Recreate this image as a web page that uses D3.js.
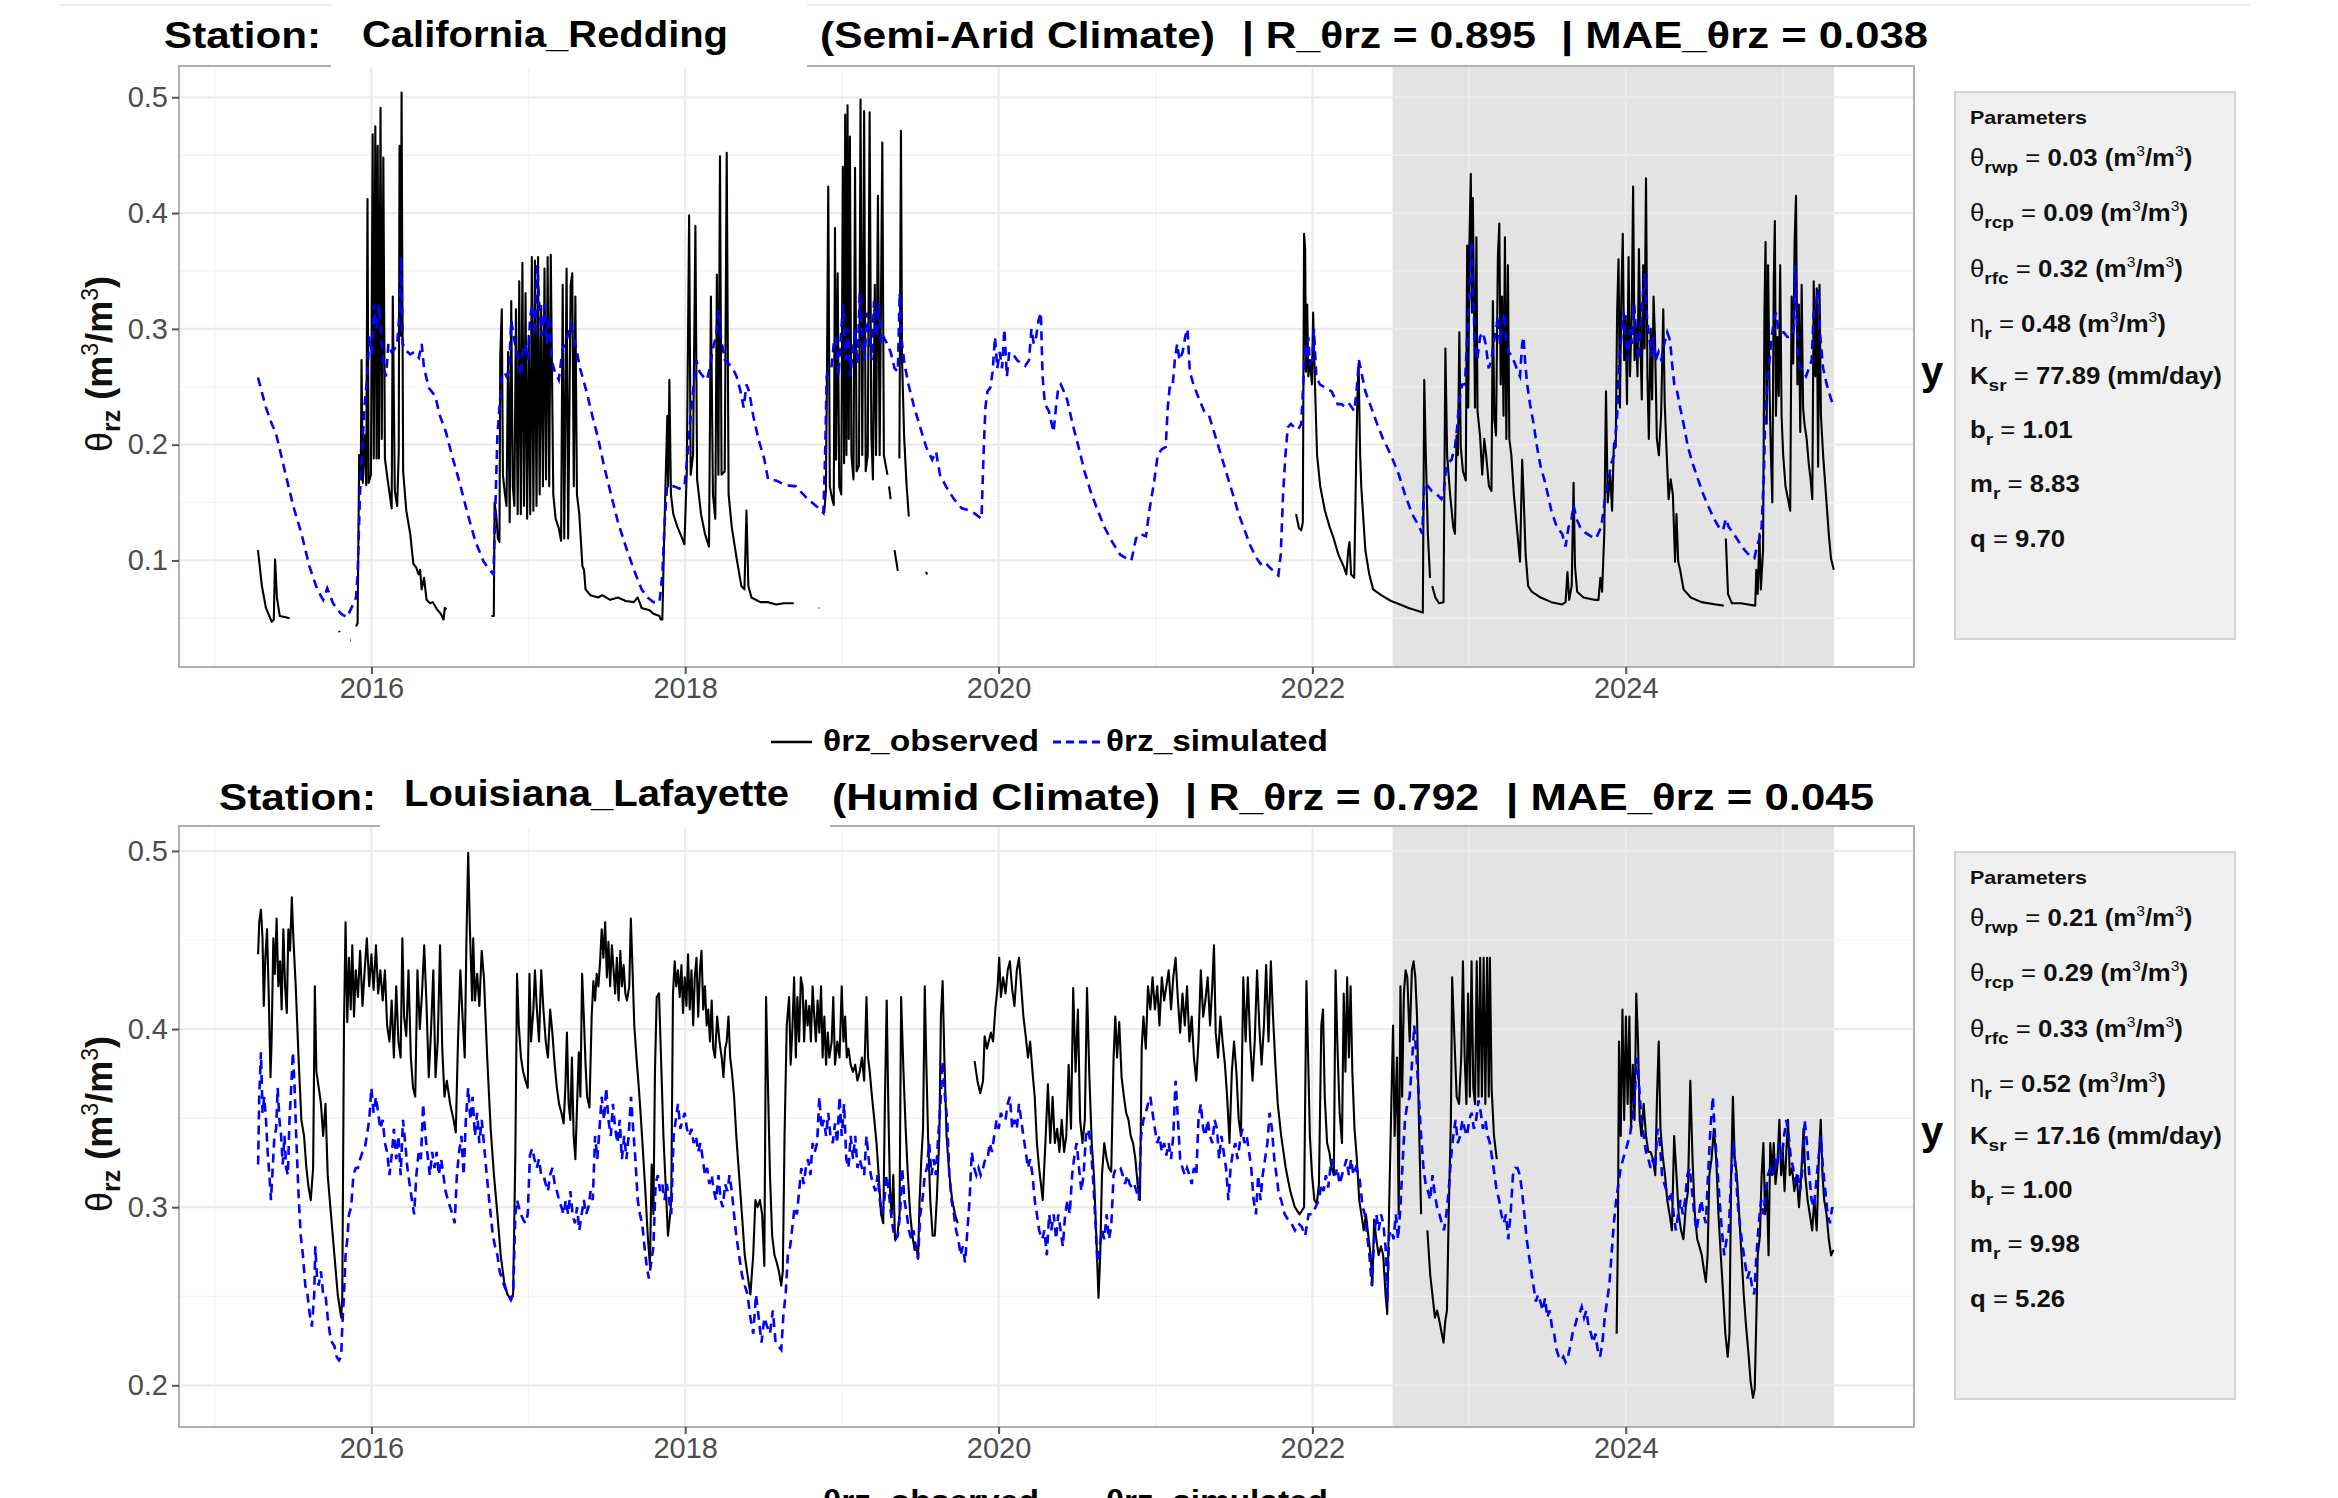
<!DOCTYPE html>
<html><head><meta charset="utf-8">
<script src="https://cdn.jsdelivr.net/npm/d3@7"></script>
<style>body{margin:0;background:#fff}svg{display:block}text{font-family:"Liberation Sans",Arial,sans-serif;white-space:pre}</style>
</head><body><svg id="c" width="2338" height="1498"></svg>
<script>
// ---------------- DATA (decimal year, value); null = gap ----------------
const majorYears=[2016,2018,2020,2022,2024];
const minorYears=[2015,2017,2019,2021,2023,2025];
const reddingTicks=[0.1,0.2,0.3,0.4,0.5], reddingMinor=[0.05,0.15,0.25,0.35,0.45];
const lafTicks=[0.2,0.3,0.4,0.5], lafMinor=[0.25,0.35,0.45];
const calibrationPeriod=[2022.512,2025.327];
const seriesNames=["θrz_observed","θrz_simulated"];
const paramNames=[["θ","rwp",0],["θ","rcp",0],["θ","rfc",0],["η","r",0],["K","sr",1],["b","r",1],["m","r",1],["q","",1]];
const paramUnits=["m3","m3","m3","m3","(mm/day)","","",""];
const reddingParams=["0.03","0.09","0.32","0.48","77.89","1.01","8.83","9.70"];
const lafayetteParams=["0.21","0.29","0.33","0.52","17.16","1.00","9.98","5.26"];

const reddingObs=[[2015.276,.109],[2015.301,.078],[2015.327,.059],[2015.364,.047],[2015.377,.049],[2015.385,.101],[2015.397,.068],[2015.415,.052],[2015.453,.051],[2015.478,.050],null,
[2015.793,.039],[2015.797,.038],null,[2015.864,.031],[2015.868,.031],null,
[2015.902,.043],[2015.912,.046],[2015.922,.191],[2015.932,.170],[2015.937,.273],[2015.945,.167],[2015.957,.208],[2015.967,.165],[2015.975,.412],[2015.982,.167],[2015.997,.174],[2016.008,.468],[2016.015,.188],[2016.025,.475],[2016.033,.188],[2016.040,.458],[2016.048,.188],[2016.058,.491],[2016.066,.205],[2016.076,.448],[2016.086,.188],[2016.103,.170],[2016.129,.145],[2016.136,.328],[2016.149,.160],[2016.164,.147],[2016.174,.194],[2016.179,.458],[2016.187,.294],[2016.192,.504],[2016.202,.177],[2016.222,.143],[2016.247,.123],[2016.267,.097],[2016.285,.094],[2016.300,.088],[2016.310,.092],[2016.320,.075],[2016.335,.085],[2016.351,.066],[2016.373,.063],[2016.391,.064],[2016.416,.058],[2016.441,.054],[2016.459,.049],[2016.467,.059],[2016.479,.058],null,
[2016.764,.052],[2016.779,.052],[2016.784,.150],[2016.794,.140],[2016.805,.119],[2016.815,.116],[2016.820,.276],[2016.830,.317],[2016.837,.174],[2016.850,.157],[2016.860,.147],[2016.870,.280],[2016.880,.133],[2016.890,.324],[2016.900,.164],[2016.910,.147],[2016.920,.317],[2016.931,.140],[2016.941,.341],[2016.951,.140],[2016.961,.357],[2016.971,.147],[2016.981,.331],[2016.991,.136],[2017.001,.294],[2017.011,.140],[2017.021,.362],[2017.031,.143],[2017.041,.359],[2017.051,.147],[2017.061,.362],[2017.071,.157],[2017.081,.320],[2017.092,.164],[2017.102,.352],[2017.112,.170],[2017.122,.362],[2017.132,.164],[2017.142,.364],[2017.158,.157],[2017.173,.136],[2017.193,.128],[2017.208,.117],[2017.218,.338],[2017.228,.119],[2017.243,.352],[2017.253,.119],[2017.269,.338],[2017.279,.348],[2017.289,.164],[2017.299,.328],[2017.309,.157],[2017.324,.140],[2017.344,.095],[2017.354,.092],[2017.364,.075],[2017.394,.070],[2017.445,.068],[2017.470,.070],[2017.521,.066],[2017.571,.068],[2017.621,.065],[2017.672,.064],[2017.697,.068],[2017.722,.059],[2017.773,.057],[2017.798,.054],[2017.836,.052],[2017.844,.049],
[2017.854,.049],[2017.864,.109],[2017.874,.164],[2017.886,.225],[2017.891,.164],[2017.899,.256],[2017.909,.157],[2017.924,.140],[2017.950,.129],[2017.975,.121],[2017.995,.114],[2018.010,.176],[2018.025,.398],[2018.035,.174],[2018.050,.191],[2018.065,.389],[2018.076,.170],[2018.101,.140],[2018.126,.123],[2018.152,.112],[2018.164,.328],[2018.177,.157],[2018.192,.136],[2018.202,.347],[2018.212,.174],[2018.222,.449],[2018.232,.174],[2018.252,.177],[2018.265,.452],[2018.277,.157],[2018.297,.129],[2018.328,.102],[2018.358,.078],[2018.378,.075],[2018.391,.143],[2018.403,.078],[2018.423,.068],[2018.479,.064],[2018.529,.064],[2018.580,.062],[2018.630,.063],[2018.693,.063],null,
[2018.852,.059],[2018.856,.059],null,
[2018.887,.141],[2018.898,.160],[2018.905,.266],[2018.913,.423],[2018.923,.164],[2018.938,.153],[2018.948,.148],[2018.956,.387],[2018.963,.187],[2018.973,.348],[2018.983,.164],[2018.996,.157],[2019.006,.440],[2019.014,.184],[2019.021,.485],[2019.029,.191],[2019.036,.493],[2019.044,.205],[2019.051,.466],[2019.061,.191],[2019.074,.170],[2019.084,.439],[2019.094,.177],[2019.109,.182],[2019.119,.498],[2019.130,.191],[2019.142,.488],[2019.152,.177],[2019.165,.191],[2019.177,.487],[2019.188,.208],[2019.198,.170],[2019.210,.338],[2019.218,.191],[2019.230,.415],[2019.241,.191],[2019.258,.461],[2019.268,.191],[2019.281,.181],[2019.291,.174],null,
[2019.301,.164],[2019.311,.153],null,[2019.336,.109],[2019.357,.091],null,
[2019.367,.188],[2019.377,.471],[2019.384,.273],[2019.397,.208],[2019.412,.167],[2019.427,.138],null,
[2019.536,.090],[2019.545,.088],null,
[2021.896,.140],[2021.914,.128],[2021.929,.126],[2021.939,.133],[2021.947,.382],[2021.954,.369],[2021.959,.263],[2021.967,.321],[2021.974,.259],[2021.984,.273],[2021.997,.252],[2022.005,.314],[2022.015,.259],[2022.030,.191],[2022.050,.164],[2022.080,.143],[2022.110,.129],[2022.136,.119],[2022.166,.105],[2022.199,.095],[2022.217,.088],[2022.229,.109],[2022.237,.116],[2022.247,.088],[2022.267,.085],[2022.280,.191],[2022.287,.239],[2022.295,.270],[2022.305,.191],[2022.312,.164],[2022.338,.109],[2022.363,.088],[2022.388,.075],[2022.439,.070],[2022.502,.065],[2022.560,.062],[2022.614,.059],[2022.705,.055],[2022.714,.256],[2022.724,.191],[2022.737,.123],[2022.751,.085],null,
[2022.765,.078],[2022.785,.068],[2022.808,.063],[2022.837,.064],[2022.849,.283],[2022.860,.191],[2022.879,.157],[2022.899,.129],[2022.910,.123],[2022.920,.208],[2022.929,.191],[2022.938,.297],[2022.947,.198],[2022.961,.177],[2022.979,.169],[2022.988,.372],[2022.995,.232],[2023.002,.372],[2023.011,.434],[2023.018,.314],[2023.024,.413],[2023.031,.328],[2023.038,.232],[2023.047,.379],[2023.054,.229],[2023.070,.208],[2023.084,.174],[2023.097,.205],[2023.109,.191],[2023.127,.164],[2023.143,.160],[2023.152,.324],[2023.161,.222],[2023.172,.208],[2023.184,.362],[2023.193,.391],[2023.202,.252],[2023.211,.328],[2023.220,.225],[2023.229,.379],[2023.238,.205],[2023.248,.355],[2023.257,.205],[2023.270,.191],[2023.286,.157],[2023.309,.123],[2023.325,.099],[2023.339,.187],[2023.348,.157],[2023.361,.105],[2023.377,.078],[2023.400,.073],[2023.457,.068],[2023.525,.064],[2023.594,.062],[2023.616,.064],[2023.628,.090],[2023.639,.066],[2023.655,.078],[2023.667,.167],[2023.676,.095],[2023.690,.073],[2023.730,.068],[2023.799,.066],[2023.826,.066],[2023.838,.085],[2023.849,.073],[2023.863,.123],[2023.874,.246],[2023.885,.150],[2023.901,.174],[2023.913,.143],[2023.924,.201],[2023.936,.198],[2023.945,.314],[2023.954,.360],[2023.963,.232],[2023.972,.328],[2023.981,.382],[2023.990,.273],[2023.999,.311],[2024.008,.235],[2024.018,.362],[2024.027,.259],[2024.038,.311],[2024.047,.423],[2024.056,.273],[2024.065,.300],[2024.075,.259],[2024.084,.369],[2024.093,.293],[2024.102,.239],[2024.111,.355],[2024.120,.283],[2024.129,.430],[2024.138,.259],[2024.147,.205],[2024.159,.300],[2024.168,.239],[2024.177,.328],[2024.186,.293],[2024.198,.205],[2024.211,.191],[2024.225,.225],[2024.239,.317],[2024.248,.235],[2024.261,.191],[2024.273,.153],[2024.286,.170],[2024.300,.157],[2024.314,.099],[2024.323,.140],[2024.334,.099],[2024.346,.092],[2024.368,.075],[2024.414,.068],[2024.482,.064],[2024.573,.062],[2024.624,.061],null,
[2024.637,.119],[2024.651,.071],[2024.676,.063],[2024.733,.063],[2024.779,.062],[2024.824,.061],[2024.831,.092],[2024.840,.071],[2024.851,.123],[2024.860,.075],[2024.874,.109],[2024.883,.317],[2024.890,.375],[2024.897,.218],[2024.906,.355],[2024.915,.249],[2024.924,.191],[2024.933,.150],[2024.942,.341],[2024.949,.393],[2024.956,.225],[2024.965,.293],[2024.974,.242],[2024.983,.355],[2024.992,.225],[2025.002,.191],[2025.017,.164],[2025.033,.153],[2025.047,.143],[2025.056,.328],[2025.066,.270],[2025.075,.375],[2025.084,.415],[2025.093,.252],[2025.102,.321],[2025.111,.211],[2025.120,.338],[2025.129,.232],[2025.138,.218],[2025.152,.205],[2025.165,.184],[2025.177,.170],[2025.188,.153],[2025.197,.341],[2025.207,.259],[2025.216,.335],[2025.225,.181],[2025.234,.338],[2025.243,.225],[2025.257,.191],[2025.275,.157],[2025.293,.123],[2025.307,.102],[2025.325,.092]];

const reddingSim=[[2015.276,.258],[2015.327,.232],[2015.364,.218],[2015.390,.210],[2015.415,.196],[2015.453,.174],[2015.503,.146],[2015.554,.123],[2015.604,.095],[2015.654,.075],[2015.692,.066],[2015.718,.076],[2015.755,.063],[2015.806,.054],[2015.844,.051],[2015.869,.058],[2015.902,.068],[2015.912,.088],[2015.927,.157],[2015.942,.198],[2015.957,.235],[2015.972,.256],[2015.987,.294],[2016.003,.277],[2016.018,.321],[2016.033,.300],[2016.048,.321],[2016.063,.294],[2016.078,.266],[2016.093,.259],[2016.108,.287],[2016.129,.280],[2016.149,.283],[2016.164,.287],[2016.179,.314],[2016.189,.362],[2016.199,.287],[2016.222,.281],[2016.247,.278],[2016.272,.280],[2016.302,.275],[2016.320,.287],[2016.335,.266],[2016.366,.249],[2016.406,.242],[2016.436,.225],[2016.474,.211],[2016.512,.191],[2016.562,.167],[2016.613,.140],[2016.663,.116],[2016.714,.099],[2016.751,.092],[2016.777,.088],[2016.789,.146],[2016.802,.208],[2016.815,.232],[2016.830,.259],[2016.845,.263],[2016.860,.259],[2016.875,.263],[2016.890,.307],[2016.905,.294],[2016.920,.283],[2016.936,.273],[2016.951,.259],[2016.966,.283],[2016.981,.287],[2016.996,.273],[2017.011,.311],[2017.026,.321],[2017.041,.294],[2017.056,.355],[2017.071,.314],[2017.087,.294],[2017.102,.321],[2017.117,.287],[2017.132,.311],[2017.147,.273],[2017.168,.263],[2017.193,.256],[2017.218,.283],[2017.243,.290],[2017.269,.304],[2017.289,.294],[2017.309,.280],[2017.329,.266],[2017.370,.246],[2017.407,.225],[2017.445,.205],[2017.483,.181],[2017.521,.160],[2017.571,.133],[2017.621,.112],[2017.672,.092],[2017.722,.075],[2017.760,.068],[2017.798,.064],[2017.836,.064],[2017.854,.088],[2017.869,.133],[2017.884,.164],[2017.904,.164],[2017.929,.164],[2017.962,.162],[2017.995,.164],[2018.015,.191],[2018.035,.225],[2018.050,.246],[2018.071,.273],[2018.091,.263],[2018.114,.259],[2018.139,.256],[2018.157,.266],[2018.177,.283],[2018.197,.294],[2018.214,.317],[2018.227,.294],[2018.252,.273],[2018.277,.270],[2018.302,.266],[2018.328,.259],[2018.353,.246],[2018.373,.232],[2018.391,.252],[2018.408,.246],[2018.434,.225],[2018.467,.205],[2018.504,.188],[2018.529,.170],[2018.580,.169],[2018.643,.165],[2018.706,.164],[2018.782,.153],[2018.845,.146],[2018.882,.141],[2018.893,.191],[2018.903,.259],[2018.918,.266],[2018.933,.266],[2018.948,.287],[2018.963,.293],[2018.978,.259],[2018.993,.293],[2019.008,.321],[2019.024,.273],[2019.039,.300],[2019.054,.259],[2019.069,.280],[2019.084,.300],[2019.099,.270],[2019.114,.331],[2019.130,.293],[2019.145,.273],[2019.160,.314],[2019.175,.293],[2019.190,.273],[2019.205,.324],[2019.220,.293],[2019.235,.321],[2019.251,.287],[2019.266,.293],[2019.286,.288],[2019.311,.280],[2019.336,.266],[2019.357,.263],[2019.369,.331],[2019.379,.293],[2019.399,.270],[2019.425,.252],[2019.462,.232],[2019.500,.215],[2019.538,.198],[2019.576,.187],[2019.601,.194],[2019.626,.174],[2019.664,.164],[2019.715,.153],[2019.765,.145],[2019.816,.143],[2019.853,.140],[2019.891,.136],[2019.904,.191],[2019.916,.232],[2019.929,.246],[2019.947,.249],[2019.962,.263],[2019.977,.293],[2019.992,.266],[2020.007,.280],[2020.022,.266],[2020.037,.300],[2020.053,.259],[2020.068,.280],[2020.093,.278],[2020.118,.273],[2020.143,.270],[2020.169,.268],[2020.194,.273],[2020.209,.300],[2020.224,.287],[2020.239,.293],[2020.254,.307],[2020.269,.314],[2020.280,.259],[2020.295,.235],[2020.320,.229],[2020.350,.211],[2020.365,.232],[2020.380,.249],[2020.396,.252],[2020.416,.246],[2020.436,.239],[2020.471,.218],[2020.509,.198],[2020.547,.177],[2020.585,.160],[2020.623,.146],[2020.673,.129],[2020.723,.116],[2020.774,.105],[2020.812,.102],[2020.845,.100],[2020.875,.119],[2020.900,.123],[2020.938,.121],[2020.963,.146],[2020.989,.167],[2021.013,.191],[2021.039,.196],[2021.064,.198],[2021.077,.232],[2021.089,.249],[2021.107,.249],[2021.122,.273],[2021.137,.287],[2021.152,.273],[2021.172,.280],[2021.188,.293],[2021.203,.300],[2021.218,.263],[2021.241,.252],[2021.278,.239],[2021.309,.229],[2021.341,.225],[2021.379,.208],[2021.417,.191],[2021.455,.174],[2021.493,.157],[2021.530,.140],[2021.568,.126],[2021.606,.112],[2021.644,.102],[2021.669,.097],[2021.694,.099],[2021.720,.095],[2021.757,.090],[2021.783,.087],[2021.798,.105],[2021.813,.157],[2021.828,.191],[2021.843,.215],[2021.863,.218],[2021.884,.215],[2021.909,.213],[2021.929,.218],[2021.944,.259],[2021.954,.287],[2021.964,.273],[2021.974,.293],[2021.984,.270],[2022.000,.273],[2022.010,.300],[2022.025,.259],[2022.047,.252],[2022.085,.249],[2022.123,.246],[2022.161,.235],[2022.186,.235],[2022.212,.232],[2022.237,.235],[2022.267,.229],[2022.282,.246],[2022.297,.273],[2022.312,.263],[2022.338,.246],[2022.376,.232],[2022.413,.218],[2022.451,.205],[2022.502,.191],[2022.552,.174],[2022.591,.157],[2022.637,.140],[2022.683,.129],[2022.701,.123],[2022.714,.167],[2022.733,.165],[2022.762,.160],[2022.796,.157],[2022.824,.153],[2022.837,.157],[2022.851,.177],[2022.865,.184],[2022.888,.187],[2022.910,.198],[2022.924,.215],[2022.938,.239],[2022.956,.252],[2022.974,.252],[2022.988,.293],[2023.002,.328],[2023.015,.375],[2023.024,.334],[2023.038,.287],[2023.052,.273],[2023.070,.293],[2023.088,.297],[2023.106,.287],[2023.125,.266],[2023.143,.273],[2023.156,.287],[2023.170,.297],[2023.184,.311],[2023.197,.287],[2023.211,.300],[2023.225,.314],[2023.238,.287],[2023.252,.280],[2023.270,.277],[2023.293,.270],[2023.311,.263],[2023.325,.259],[2023.339,.287],[2023.348,.293],[2023.357,.273],[2023.371,.252],[2023.389,.235],[2023.412,.218],[2023.434,.198],[2023.457,.181],[2023.480,.170],[2023.503,.157],[2023.525,.143],[2023.560,.129],[2023.594,.123],[2023.616,.112],[2023.635,.129],[2023.651,.133],[2023.667,.148],[2023.685,.136],[2023.708,.129],[2023.742,.124],[2023.776,.121],[2023.810,.119],[2023.844,.129],[2023.867,.153],[2023.890,.170],[2023.908,.184],[2023.926,.191],[2023.945,.225],[2023.958,.273],[2023.972,.293],[2023.986,.314],[2023.999,.293],[2024.013,.273],[2024.027,.300],[2024.040,.287],[2024.054,.321],[2024.068,.293],[2024.081,.273],[2024.095,.300],[2024.109,.328],[2024.122,.348],[2024.136,.307],[2024.150,.293],[2024.163,.276],[2024.177,.293],[2024.191,.273],[2024.209,.280],[2024.227,.273],[2024.245,.287],[2024.264,.297],[2024.282,.290],[2024.295,.270],[2024.309,.252],[2024.327,.246],[2024.346,.232],[2024.368,.218],[2024.396,.198],[2024.425,.184],[2024.460,.170],[2024.494,.157],[2024.528,.146],[2024.562,.136],[2024.596,.128],[2024.619,.126],[2024.637,.136],[2024.655,.129],[2024.687,.123],[2024.721,.116],[2024.756,.109],[2024.790,.104],[2024.819,.102],[2024.835,.112],[2024.851,.119],[2024.865,.129],[2024.879,.174],[2024.888,.225],[2024.901,.252],[2024.915,.273],[2024.929,.293],[2024.943,.307],[2024.956,.314],[2024.970,.300],[2024.983,.297],[2025.006,.297],[2025.029,.293],[2025.052,.293],[2025.070,.300],[2025.079,.355],[2025.088,.311],[2025.097,.273],[2025.111,.266],[2025.129,.263],[2025.148,.259],[2025.166,.266],[2025.184,.273],[2025.197,.314],[2025.211,.321],[2025.225,.334],[2025.239,.293],[2025.257,.266],[2025.280,.252],[2025.302,.242],[2025.325,.232]];

const lafayetteObs=[[2015.277,.442],[2015.284,.460],[2015.295,.467],[2015.305,.451],[2015.313,.413],[2015.323,.440],[2015.334,.456],[2015.345,.418],[2015.356,.373],[2015.363,.393],[2015.374,.451],[2015.384,.431],[2015.395,.462],[2015.406,.424],[2015.417,.438],[2015.427,.411],[2015.438,.456],[2015.449,.424],[2015.460,.409],[2015.470,.456],[2015.481,.444],[2015.492,.474],[2015.502,.451],[2015.517,.424],[2015.535,.384],[2015.553,.349],[2015.570,.340],[2015.585,.322],[2015.599,.311],[2015.613,.304],[2015.628,.322],[2015.639,.424],[2015.649,.376],[2015.664,.367],[2015.678,.358],[2015.692,.340],[2015.707,.358],[2015.721,.318],[2015.742,.296],[2015.764,.273],[2015.785,.251],[2015.807,.238],[2015.814,.249],[2015.825,.402],[2015.835,.460],[2015.846,.404],[2015.857,.440],[2015.868,.411],[2015.878,.447],[2015.889,.407],[2015.900,.433],[2015.914,.418],[2015.928,.444],[2015.943,.413],[2015.957,.433],[2015.971,.451],[2015.986,.424],[2016.000,.442],[2016.014,.422],[2016.029,.447],[2016.043,.420],[2016.057,.433],[2016.072,.416],[2016.086,.433],[2016.100,.402],[2016.115,.393],[2016.129,.416],[2016.143,.384],[2016.158,.424],[2016.172,.393],[2016.186,.384],[2016.197,.451],[2016.208,.407],[2016.222,.396],[2016.236,.433],[2016.251,.384],[2016.265,.367],[2016.279,.362],[2016.293,.433],[2016.308,.400],[2016.322,.420],[2016.336,.447],[2016.351,.413],[2016.365,.373],[2016.379,.398],[2016.394,.433],[2016.408,.373],[2016.422,.393],[2016.437,.447],[2016.451,.389],[2016.465,.362],[2016.480,.371],[2016.501,.358],[2016.523,.349],[2016.537,.342],[2016.551,.393],[2016.566,.433],[2016.580,.407],[2016.594,.384],[2016.605,.451],[2016.616,.499],[2016.627,.456],[2016.641,.416],[2016.648,.451],[2016.659,.416],[2016.673,.431],[2016.687,.413],[2016.702,.444],[2016.716,.429],[2016.737,.384],[2016.759,.344],[2016.780,.318],[2016.802,.296],[2016.823,.273],[2016.845,.258],[2016.866,.251],[2016.888,.248],[2016.902,.251],[2016.916,.329],[2016.927,.431],[2016.938,.402],[2016.952,.384],[2016.966,.376],[2016.981,.371],[2016.995,.367],[2017.006,.431],[2017.016,.393],[2017.031,.411],[2017.041,.433],[2017.052,.413],[2017.067,.393],[2017.081,.433],[2017.095,.411],[2017.110,.393],[2017.124,.384],[2017.138,.411],[2017.152,.398],[2017.167,.380],[2017.181,.367],[2017.195,.358],[2017.210,.353],[2017.224,.347],[2017.235,.367],[2017.245,.398],[2017.256,.358],[2017.267,.349],[2017.277,.384],[2017.288,.340],[2017.299,.327],[2017.310,.358],[2017.321,.387],[2017.331,.362],[2017.342,.431],[2017.353,.407],[2017.364,.380],[2017.374,.362],[2017.389,.356],[2017.403,.407],[2017.414,.427],[2017.425,.416],[2017.435,.431],[2017.446,.424],[2017.457,.438],[2017.467,.456],[2017.478,.440],[2017.489,.460],[2017.500,.429],[2017.510,.449],[2017.521,.424],[2017.532,.447],[2017.543,.433],[2017.553,.420],[2017.564,.440],[2017.575,.416],[2017.586,.444],[2017.596,.424],[2017.607,.436],[2017.618,.420],[2017.628,.416],[2017.643,.424],[2017.653,.462],[2017.664,.433],[2017.675,.402],[2017.689,.384],[2017.704,.367],[2017.718,.349],[2017.732,.329],[2017.747,.307],[2017.761,.284],[2017.775,.267],[2017.786,.324],[2017.797,.296],[2017.807,.376],[2017.818,.418],[2017.833,.420],[2017.847,.380],[2017.861,.340],[2017.875,.313],[2017.890,.284],[2017.904,.296],[2017.911,.304],[2017.922,.420],[2017.933,.438],[2017.943,.424],[2017.954,.433],[2017.965,.418],[2017.976,.436],[2017.986,.409],[2017.997,.429],[2018.008,.413],[2018.018,.442],[2018.029,.411],[2018.040,.433],[2018.051,.402],[2018.061,.429],[2018.072,.440],[2018.083,.407],[2018.094,.433],[2018.104,.444],[2018.115,.411],[2018.126,.424],[2018.137,.402],[2018.147,.411],[2018.158,.393],[2018.169,.416],[2018.179,.389],[2018.190,.384],[2018.204,.407],[2018.219,.393],[2018.233,.384],[2018.244,.373],[2018.255,.389],[2018.265,.393],[2018.276,.407],[2018.287,.384],[2018.298,.376],[2018.312,.362],[2018.326,.340],[2018.344,.318],[2018.362,.296],[2018.380,.273],[2018.398,.262],[2018.416,.251],[2018.434,.273],[2018.448,.304],[2018.462,.300],[2018.477,.304],[2018.491,.296],[2018.505,.267],[2018.516,.418],[2018.527,.373],[2018.541,.318],[2018.555,.284],[2018.570,.273],[2018.584,.269],[2018.598,.264],[2018.613,.256],[2018.623,.264],[2018.634,.340],[2018.648,.402],[2018.663,.418],[2018.673,.380],[2018.684,.400],[2018.695,.429],[2018.706,.384],[2018.716,.418],[2018.727,.393],[2018.738,.429],[2018.749,.424],[2018.759,.393],[2018.770,.416],[2018.781,.402],[2018.792,.413],[2018.802,.393],[2018.813,.424],[2018.824,.407],[2018.834,.393],[2018.845,.416],[2018.856,.398],[2018.867,.424],[2018.877,.384],[2018.888,.407],[2018.899,.380],[2018.910,.398],[2018.920,.384],[2018.935,.393],[2018.945,.418],[2018.956,.380],[2018.971,.393],[2018.985,.384],[2018.999,.424],[2019.010,.393],[2019.021,.407],[2019.031,.384],[2019.042,.389],[2019.056,.380],[2019.071,.376],[2019.085,.380],[2019.099,.371],[2019.114,.376],[2019.128,.384],[2019.142,.371],[2019.157,.418],[2019.167,.384],[2019.178,.376],[2019.192,.362],[2019.207,.349],[2019.221,.336],[2019.235,.318],[2019.250,.296],[2019.264,.291],[2019.275,.362],[2019.286,.416],[2019.296,.358],[2019.307,.309],[2019.318,.296],[2019.328,.318],[2019.339,.282],[2019.354,.284],[2019.368,.296],[2019.378,.418],[2019.393,.376],[2019.407,.344],[2019.421,.318],[2019.436,.296],[2019.450,.284],[2019.464,.276],[2019.475,.278],[2019.486,.271],[2019.496,.304],[2019.507,.327],[2019.518,.344],[2019.529,.424],[2019.539,.380],[2019.550,.340],[2019.564,.304],[2019.579,.284],[2019.593,.284],[2019.607,.307],[2019.622,.340],[2019.632,.407],[2019.643,.427],[2019.654,.384],[2019.668,.340],[2019.686,.318],[2019.704,.304],[2019.722,.296],[2019.739,.291],null,
[2019.847,.382],[2019.865,.371],[2019.883,.364],[2019.901,.371],[2019.911,.396],[2019.926,.389],[2019.937,.393],[2019.951,.398],[2019.965,.393],[2019.979,.411],[2019.994,.424],[2020.004,.440],[2020.015,.418],[2020.029,.429],[2020.044,.420],[2020.058,.433],[2020.072,.438],[2020.087,.422],[2020.101,.413],[2020.116,.433],[2020.130,.440],[2020.144,.424],[2020.158,.407],[2020.173,.396],[2020.187,.384],[2020.201,.393],[2020.216,.376],[2020.230,.362],[2020.244,.336],[2020.258,.322],[2020.281,.304],[2020.300,.340],[2020.314,.369],[2020.329,.336],[2020.344,.362],[2020.358,.336],[2020.373,.344],[2020.387,.331],[2020.402,.349],[2020.417,.331],[2020.431,.340],[2020.446,.380],[2020.461,.344],[2020.475,.423],[2020.490,.376],[2020.505,.411],[2020.519,.349],[2020.534,.336],[2020.549,.349],[2020.563,.423],[2020.578,.373],[2020.593,.336],[2020.607,.318],[2020.622,.284],[2020.636,.249],[2020.647,.273],[2020.658,.318],[2020.673,.336],[2020.688,.327],[2020.702,.322],[2020.717,.320],[2020.732,.384],[2020.743,.407],[2020.754,.384],[2020.768,.404],[2020.783,.373],[2020.798,.362],[2020.812,.353],[2020.827,.349],[2020.841,.340],[2020.856,.336],[2020.871,.327],[2020.885,.313],[2020.900,.304],[2020.911,.389],[2020.922,.407],[2020.937,.389],[2020.951,.424],[2020.966,.411],[2020.980,.429],[2020.995,.411],[2021.010,.424],[2021.024,.402],[2021.039,.429],[2021.054,.416],[2021.068,.424],[2021.083,.433],[2021.098,.411],[2021.112,.429],[2021.127,.440],[2021.142,.416],[2021.156,.398],[2021.171,.420],[2021.186,.402],[2021.200,.424],[2021.215,.393],[2021.230,.407],[2021.244,.384],[2021.259,.371],[2021.273,.393],[2021.288,.433],[2021.303,.407],[2021.317,.416],[2021.332,.429],[2021.347,.402],[2021.361,.424],[2021.372,.447],[2021.383,.398],[2021.398,.384],[2021.413,.407],[2021.427,.393],[2021.442,.380],[2021.456,.362],[2021.471,.336],[2021.486,.376],[2021.500,.393],[2021.515,.376],[2021.530,.349],[2021.544,.340],[2021.559,.429],[2021.574,.393],[2021.588,.429],[2021.603,.393],[2021.618,.371],[2021.632,.393],[2021.647,.433],[2021.661,.402],[2021.676,.380],[2021.691,.402],[2021.705,.436],[2021.720,.393],[2021.735,.438],[2021.749,.407],[2021.764,.380],[2021.779,.358],[2021.801,.340],[2021.830,.322],[2021.859,.309],[2021.888,.300],[2021.918,.296],[2021.947,.300],[2021.962,.427],[2021.973,.384],[2021.984,.340],[2021.998,.318],[2022.013,.304],[2022.028,.302],[2022.042,.313],[2022.057,.402],[2022.068,.411],[2022.079,.362],[2022.094,.336],[2022.108,.331],[2022.123,.322],[2022.137,.318],[2022.148,.433],[2022.159,.393],[2022.174,.353],[2022.189,.336],[2022.200,.420],[2022.211,.376],[2022.222,.429],[2022.233,.384],[2022.244,.424],[2022.255,.376],[2022.269,.344],[2022.284,.327],[2022.299,.304],[2022.313,.296],[2022.328,.287],[2022.342,.296],[2022.357,.284],[2022.372,.273],[2022.383,.256],[2022.394,.293],[2022.408,.282],[2022.423,.273],[2022.438,.278],[2022.452,.273],[2022.467,.251],[2022.478,.240],[2022.489,.296],[2022.504,.358],[2022.515,.402],[2022.525,.340],[2022.540,.384],[2022.551,.296],[2022.562,.424],[2022.573,.362],[2022.584,.420],[2022.595,.433],[2022.606,.429],[2022.621,.393],[2022.635,.433],[2022.646,.438],[2022.657,.429],[2022.668,.407],[2022.679,.353],[2022.694,.296],null,
[2022.734,.287],[2022.752,.262],[2022.771,.247],[2022.782,.238],[2022.796,.242],[2022.811,.236],[2022.826,.229],[2022.837,.224],[2022.848,.236],[2022.859,.242],[2022.870,.296],[2022.884,.349],[2022.892,.429],[2022.906,.396],[2022.921,.362],[2022.936,.358],[2022.950,.384],[2022.961,.438],[2022.972,.384],[2022.983,.358],[2022.994,.420],[2023.005,.362],[2023.016,.438],[2023.027,.367],[2023.038,.358],[2023.049,.438],[2023.060,.362],[2023.071,.440],[2023.082,.362],[2023.093,.440],[2023.104,.358],[2023.115,.440],[2023.126,.362],[2023.133,.440],[2023.144,.367],[2023.159,.340],[2023.177,.327],null,
[2023.942,.229],[2023.950,.284],[2023.957,.393],[2023.968,.340],[2023.979,.411],[2023.990,.349],[2024.001,.407],[2024.012,.358],[2024.023,.407],[2024.034,.344],[2024.045,.380],[2024.056,.349],[2024.067,.420],[2024.078,.393],[2024.089,.349],[2024.100,.340],[2024.114,.358],[2024.129,.340],[2024.144,.331],[2024.159,.331],[2024.173,.327],[2024.188,.318],[2024.199,.362],[2024.210,.393],[2024.221,.344],[2024.235,.329],[2024.250,.318],[2024.264,.304],[2024.279,.296],[2024.294,.287],[2024.308,.340],[2024.323,.318],[2024.337,.296],[2024.352,.287],[2024.367,.282],[2024.382,.300],[2024.396,.309],[2024.411,.371],[2024.425,.327],[2024.440,.296],[2024.455,.282],[2024.469,.278],[2024.484,.273],[2024.499,.264],[2024.510,.258],[2024.521,.273],[2024.532,.318],[2024.546,.327],[2024.561,.344],[2024.576,.327],[2024.590,.296],[2024.605,.273],[2024.620,.251],[2024.634,.229],[2024.649,.216],[2024.660,.229],[2024.671,.318],[2024.682,.362],[2024.693,.329],[2024.707,.318],[2024.722,.296],[2024.737,.273],[2024.751,.251],[2024.766,.233],[2024.781,.218],[2024.795,.202],[2024.810,.193],[2024.821,.198],[2024.829,.229],[2024.840,.273],[2024.854,.284],[2024.865,.318],[2024.876,.336],[2024.887,.296],[2024.898,.313],[2024.909,.273],[2024.920,.336],[2024.931,.318],[2024.942,.336],[2024.953,.313],[2024.964,.322],[2024.978,.349],[2024.989,.318],[2025.000,.331],[2025.011,.309],[2025.022,.331],[2025.033,.349],[2025.044,.318],[2025.059,.322],[2025.073,.309],[2025.088,.318],[2025.103,.300],[2025.117,.318],[2025.132,.344],[2025.143,.318],[2025.158,.304],[2025.172,.296],[2025.187,.287],[2025.201,.304],[2025.216,.287],[2025.231,.331],[2025.242,.349],[2025.253,.318],[2025.264,.304],[2025.279,.296],[2025.293,.282],[2025.308,.273],[2025.323,.276]];

const lafayetteSim=[[2015.277,.324],[2015.284,.362],[2015.295,.387],[2015.305,.353],[2015.316,.362],[2015.327,.349],[2015.338,.331],[2015.349,.318],[2015.359,.304],[2015.370,.322],[2015.381,.340],[2015.392,.344],[2015.402,.367],[2015.413,.349],[2015.424,.340],[2015.434,.324],[2015.445,.340],[2015.456,.322],[2015.467,.318],[2015.477,.349],[2015.488,.367],[2015.499,.387],[2015.510,.367],[2015.520,.340],[2015.535,.307],[2015.549,.284],[2015.563,.273],[2015.578,.256],[2015.592,.251],[2015.606,.240],[2015.620,.233],[2015.635,.251],[2015.642,.278],[2015.653,.260],[2015.663,.256],[2015.678,.264],[2015.692,.251],[2015.707,.251],[2015.721,.238],[2015.735,.229],[2015.749,.224],[2015.764,.222],[2015.778,.216],[2015.793,.214],[2015.807,.216],[2015.814,.233],[2015.825,.251],[2015.835,.273],[2015.846,.282],[2015.857,.296],[2015.871,.300],[2015.885,.318],[2015.900,.322],[2015.914,.322],[2015.928,.327],[2015.943,.331],[2015.957,.333],[2015.971,.340],[2015.986,.349],[2016.000,.367],[2016.014,.353],[2016.029,.362],[2016.043,.353],[2016.057,.344],[2016.072,.349],[2016.086,.336],[2016.100,.331],[2016.115,.318],[2016.129,.329],[2016.143,.344],[2016.158,.327],[2016.172,.340],[2016.186,.318],[2016.201,.349],[2016.215,.336],[2016.229,.322],[2016.243,.313],[2016.258,.304],[2016.272,.296],[2016.286,.318],[2016.301,.331],[2016.315,.327],[2016.329,.358],[2016.344,.340],[2016.358,.329],[2016.372,.318],[2016.387,.331],[2016.401,.322],[2016.415,.331],[2016.429,.318],[2016.444,.327],[2016.458,.318],[2016.472,.309],[2016.487,.304],[2016.501,.300],[2016.516,.296],[2016.530,.291],[2016.544,.318],[2016.558,.331],[2016.573,.340],[2016.587,.318],[2016.601,.349],[2016.616,.367],[2016.630,.349],[2016.644,.362],[2016.659,.340],[2016.673,.353],[2016.687,.336],[2016.702,.349],[2016.716,.336],[2016.730,.322],[2016.744,.309],[2016.759,.296],[2016.773,.284],[2016.787,.278],[2016.802,.273],[2016.816,.264],[2016.830,.260],[2016.845,.256],[2016.859,.253],[2016.873,.251],[2016.888,.248],[2016.902,.251],[2016.916,.296],[2016.927,.304],[2016.938,.300],[2016.952,.296],[2016.966,.293],[2016.981,.291],[2016.995,.296],[2017.009,.329],[2017.023,.333],[2017.038,.327],[2017.052,.322],[2017.067,.327],[2017.081,.318],[2017.095,.318],[2017.110,.313],[2017.124,.309],[2017.138,.318],[2017.152,.322],[2017.167,.313],[2017.181,.309],[2017.195,.304],[2017.210,.300],[2017.224,.296],[2017.238,.304],[2017.253,.296],[2017.267,.309],[2017.281,.296],[2017.296,.291],[2017.310,.300],[2017.324,.287],[2017.339,.296],[2017.353,.304],[2017.367,.296],[2017.382,.300],[2017.396,.309],[2017.410,.304],[2017.425,.340],[2017.439,.327],[2017.453,.344],[2017.467,.362],[2017.482,.349],[2017.496,.367],[2017.510,.349],[2017.525,.340],[2017.539,.358],[2017.553,.344],[2017.568,.336],[2017.582,.349],[2017.596,.327],[2017.611,.340],[2017.625,.327],[2017.639,.340],[2017.654,.362],[2017.668,.344],[2017.682,.327],[2017.697,.304],[2017.711,.296],[2017.725,.291],[2017.740,.278],[2017.754,.267],[2017.768,.260],[2017.783,.269],[2017.797,.278],[2017.811,.313],[2017.825,.318],[2017.840,.309],[2017.854,.313],[2017.868,.304],[2017.883,.313],[2017.897,.304],[2017.911,.296],[2017.926,.340],[2017.940,.349],[2017.954,.358],[2017.969,.344],[2017.983,.349],[2017.997,.353],[2018.011,.344],[2018.026,.340],[2018.040,.344],[2018.054,.336],[2018.069,.340],[2018.083,.331],[2018.097,.336],[2018.112,.327],[2018.126,.318],[2018.140,.322],[2018.154,.313],[2018.169,.318],[2018.183,.309],[2018.197,.304],[2018.212,.318],[2018.226,.304],[2018.240,.300],[2018.255,.313],[2018.269,.309],[2018.283,.318],[2018.297,.309],[2018.312,.296],[2018.326,.284],[2018.344,.273],[2018.362,.262],[2018.380,.256],[2018.398,.251],[2018.416,.238],[2018.434,.229],[2018.452,.251],[2018.469,.238],[2018.487,.224],[2018.505,.238],[2018.523,.233],[2018.541,.229],[2018.559,.242],[2018.577,.224],[2018.595,.222],[2018.613,.220],[2018.627,.240],[2018.641,.251],[2018.655,.273],[2018.670,.278],[2018.684,.289],[2018.698,.300],[2018.713,.296],[2018.727,.309],[2018.741,.322],[2018.756,.313],[2018.770,.322],[2018.784,.327],[2018.799,.318],[2018.813,.336],[2018.827,.331],[2018.842,.336],[2018.856,.362],[2018.870,.344],[2018.885,.349],[2018.899,.340],[2018.913,.353],[2018.927,.340],[2018.942,.336],[2018.956,.347],[2018.970,.336],[2018.985,.362],[2018.999,.340],[2019.014,.358],[2019.028,.327],[2019.042,.322],[2019.056,.340],[2019.071,.327],[2019.085,.340],[2019.099,.322],[2019.114,.327],[2019.128,.322],[2019.142,.318],[2019.157,.340],[2019.171,.327],[2019.185,.318],[2019.199,.313],[2019.214,.309],[2019.228,.318],[2019.242,.304],[2019.256,.296],[2019.271,.304],[2019.285,.318],[2019.299,.309],[2019.314,.296],[2019.328,.287],[2019.342,.282],[2019.357,.284],[2019.371,.296],[2019.385,.322],[2019.399,.304],[2019.414,.296],[2019.428,.287],[2019.443,.282],[2019.457,.287],[2019.471,.278],[2019.486,.271],[2019.500,.296],[2019.514,.304],[2019.529,.318],[2019.543,.322],[2019.557,.336],[2019.572,.318],[2019.586,.327],[2019.600,.318],[2019.615,.340],[2019.629,.358],[2019.643,.382],[2019.658,.362],[2019.672,.349],[2019.686,.318],[2019.700,.304],[2019.715,.296],[2019.729,.287],[2019.743,.282],[2019.758,.273],[2019.772,.278],[2019.786,.269],[2019.801,.287],[2019.815,.304],[2019.829,.331],[2019.844,.322],[2019.858,.318],[2019.872,.322],[2019.886,.318],[2019.901,.322],[2019.915,.327],[2019.929,.327],[2019.944,.336],[2019.958,.331],[2019.972,.340],[2019.987,.349],[2020.001,.344],[2020.015,.353],[2020.029,.349],[2020.044,.349],[2020.058,.358],[2020.072,.362],[2020.087,.344],[2020.101,.349],[2020.116,.344],[2020.130,.358],[2020.144,.349],[2020.158,.340],[2020.173,.331],[2020.187,.322],[2020.201,.327],[2020.216,.318],[2020.230,.304],[2020.244,.296],[2020.258,.287],[2020.278,.282],[2020.292,.287],[2020.307,.273],[2020.322,.296],[2020.336,.287],[2020.351,.296],[2020.366,.282],[2020.380,.296],[2020.395,.287],[2020.409,.278],[2020.424,.296],[2020.439,.304],[2020.453,.296],[2020.468,.318],[2020.483,.329],[2020.497,.336],[2020.512,.322],[2020.527,.309],[2020.541,.318],[2020.556,.340],[2020.571,.344],[2020.585,.336],[2020.600,.318],[2020.614,.296],[2020.629,.269],[2020.644,.278],[2020.658,.287],[2020.673,.282],[2020.688,.296],[2020.702,.282],[2020.717,.289],[2020.732,.318],[2020.746,.322],[2020.761,.322],[2020.776,.322],[2020.790,.318],[2020.805,.313],[2020.819,.318],[2020.834,.313],[2020.849,.311],[2020.863,.313],[2020.878,.309],[2020.893,.304],[2020.907,.340],[2020.922,.349],[2020.937,.353],[2020.951,.358],[2020.966,.362],[2020.980,.353],[2020.995,.344],[2021.010,.336],[2021.024,.340],[2021.039,.331],[2021.054,.336],[2021.068,.329],[2021.083,.336],[2021.098,.327],[2021.112,.340],[2021.127,.371],[2021.142,.349],[2021.156,.327],[2021.171,.322],[2021.186,.318],[2021.200,.322],[2021.215,.318],[2021.230,.313],[2021.244,.322],[2021.259,.318],[2021.273,.349],[2021.288,.358],[2021.303,.344],[2021.317,.340],[2021.332,.349],[2021.347,.340],[2021.361,.336],[2021.376,.349],[2021.391,.344],[2021.405,.327],[2021.420,.340],[2021.434,.331],[2021.449,.322],[2021.464,.304],[2021.478,.322],[2021.493,.331],[2021.508,.336],[2021.522,.327],[2021.537,.336],[2021.552,.344],[2021.566,.336],[2021.581,.340],[2021.596,.331],[2021.610,.322],[2021.625,.304],[2021.640,.296],[2021.654,.318],[2021.669,.304],[2021.683,.318],[2021.698,.327],[2021.713,.336],[2021.727,.353],[2021.742,.344],[2021.757,.327],[2021.771,.318],[2021.786,.307],[2021.801,.304],[2021.823,.296],[2021.845,.293],[2021.866,.291],[2021.888,.287],[2021.910,.291],[2021.932,.289],[2021.954,.284],[2021.976,.296],[2021.998,.296],[2022.020,.300],[2022.042,.304],[2022.057,.313],[2022.072,.309],[2022.086,.318],[2022.101,.311],[2022.115,.322],[2022.130,.327],[2022.145,.318],[2022.159,.322],[2022.174,.313],[2022.189,.318],[2022.203,.322],[2022.218,.327],[2022.233,.318],[2022.247,.327],[2022.262,.318],[2022.277,.322],[2022.299,.318],[2022.321,.300],[2022.335,.296],[2022.350,.284],[2022.364,.273],[2022.379,.256],[2022.394,.282],[2022.408,.296],[2022.423,.287],[2022.438,.296],[2022.452,.291],[2022.467,.278],[2022.478,.247],[2022.489,.284],[2022.504,.287],[2022.518,.282],[2022.533,.296],[2022.547,.282],[2022.562,.300],[2022.577,.327],[2022.591,.349],[2022.606,.358],[2022.621,.362],[2022.635,.380],[2022.650,.402],[2022.665,.384],[2022.679,.362],[2022.694,.340],[2022.709,.322],[2022.723,.313],[2022.738,.309],[2022.752,.304],[2022.767,.318],[2022.782,.307],[2022.796,.300],[2022.811,.296],[2022.826,.291],[2022.840,.287],[2022.855,.296],[2022.870,.309],[2022.884,.327],[2022.899,.340],[2022.914,.349],[2022.928,.336],[2022.943,.340],[2022.958,.349],[2022.972,.344],[2022.987,.340],[2023.001,.349],[2023.016,.353],[2023.031,.344],[2023.045,.349],[2023.060,.360],[2023.075,.353],[2023.089,.344],[2023.104,.349],[2023.119,.340],[2023.133,.336],[2023.148,.327],[2023.163,.318],[2023.177,.309],[2023.192,.304],[2023.206,.296],[2023.221,.291],[2023.236,.296],[2023.250,.282],[2023.265,.296],[2023.280,.318],[2023.294,.322],[2023.309,.322],[2023.324,.318],[2023.338,.309],[2023.353,.296],[2023.368,.282],[2023.382,.273],[2023.397,.264],[2023.411,.256],[2023.426,.247],[2023.441,.251],[2023.455,.247],[2023.470,.242],[2023.485,.249],[2023.499,.238],[2023.514,.242],[2023.529,.233],[2023.543,.229],[2023.558,.220],[2023.573,.216],[2023.587,.214],[2023.602,.216],[2023.616,.213],[2023.631,.216],[2023.646,.222],[2023.660,.229],[2023.675,.233],[2023.690,.238],[2023.704,.240],[2023.719,.244],[2023.734,.238],[2023.748,.242],[2023.763,.233],[2023.778,.229],[2023.792,.224],[2023.807,.229],[2023.821,.220],[2023.836,.216],[2023.851,.224],[2023.866,.238],[2023.880,.247],[2023.895,.256],[2023.909,.273],[2023.924,.291],[2023.939,.304],[2023.953,.313],[2023.968,.322],[2023.983,.327],[2023.997,.331],[2024.012,.336],[2024.026,.340],[2024.041,.349],[2024.055,.358],[2024.070,.384],[2024.084,.369],[2024.100,.349],[2024.114,.340],[2024.129,.331],[2024.144,.327],[2024.158,.322],[2024.173,.327],[2024.187,.322],[2024.202,.344],[2024.217,.336],[2024.231,.318],[2024.246,.313],[2024.261,.309],[2024.275,.304],[2024.290,.309],[2024.305,.296],[2024.319,.287],[2024.334,.296],[2024.349,.304],[2024.363,.296],[2024.378,.304],[2024.392,.318],[2024.407,.322],[2024.422,.309],[2024.436,.296],[2024.451,.287],[2024.466,.296],[2024.480,.304],[2024.495,.296],[2024.510,.291],[2024.524,.318],[2024.539,.344],[2024.554,.362],[2024.568,.340],[2024.583,.322],[2024.597,.304],[2024.612,.287],[2024.627,.273],[2024.642,.282],[2024.656,.287],[2024.671,.318],[2024.686,.336],[2024.701,.318],[2024.715,.300],[2024.730,.287],[2024.744,.278],[2024.759,.269],[2024.774,.260],[2024.788,.264],[2024.803,.256],[2024.818,.251],[2024.832,.273],[2024.847,.291],[2024.862,.304],[2024.876,.296],[2024.891,.309],[2024.905,.318],[2024.920,.322],[2024.935,.318],[2024.949,.327],[2024.964,.322],[2024.978,.336],[2024.993,.327],[2025.008,.340],[2025.022,.349],[2025.037,.340],[2025.052,.327],[2025.066,.322],[2025.081,.313],[2025.096,.318],[2025.110,.309],[2025.125,.322],[2025.139,.349],[2025.154,.336],[2025.169,.318],[2025.183,.304],[2025.198,.300],[2025.212,.313],[2025.227,.327],[2025.242,.340],[2025.256,.322],[2025.271,.309],[2025.286,.296],[2025.300,.291],[2025.315,.300],[2025.330,.296]];

// ---------------- RENDER ----------------
const FONT='"Liberation Sans",Arial,sans-serif';
function toDate(y){const yr=Math.floor(y),s=Date.UTC(yr,0,1),e=Date.UTC(yr+1,0,1);return new Date(s+(y-yr)*(e-s));}
const svg=d3.select("#c");
svg.append("rect").attr("width",2338).attr("height",1498).attr("fill","#fff");
svg.append("line").attr("x1",60).attr("x2",2250).attr("y1",5).attr("y2",5).attr("stroke","#eeeeee").attr("stroke-width",2);

const x=d3.scaleUtc().domain([toDate(2014.772),toDate(2025.837)]).range([179,1914]);

const panels=[
 {dy:0,station:"California_Redding",climate:"(Semi-Arid Climate)",r:"0.895",mae:"0.038",obs:reddingObs,sim:reddingSim,
  yDomain:[0.008,0.527],ticks:reddingTicks,minor:reddingMinor,params:reddingParams,
  tl:[[164,157,48],[362,366,47],[820,395,48],[1242,294,48],[1561,367,48]],patch:[331,807]},
 {dy:760,station:"Louisiana_Lafayette",climate:"(Humid Climate)",r:"0.792",mae:"0.045",obs:lafayetteObs,sim:lafayetteSim,
  yDomain:[0.1766,0.514],ticks:lafTicks,minor:lafMinor,params:lafayetteParams,
  tl:[[219,157,810],[404,385,806],[832,328,810],[1185,294,810],[1506,368,810]],patch:[380,830]}
];

panels.forEach((p,pi)=>{
  const top=66+p.dy, bot=667+p.dy, L=179, R=1914;
  const y=d3.scaleLinear().domain(p.yDomain).range([bot,top]);
  const g=svg.append("g");
  const cid="clip"+pi;
  g.append("clipPath").attr("id",cid).append("rect").attr("x",L).attr("y",top).attr("width",R-L).attr("height",bot-top);
  g.append("rect").attr("x",L).attr("y",top).attr("width",R-L).attr("height",bot-top).attr("fill","#fff");
  g.append("rect").attr("x",x(toDate(calibrationPeriod[0]))).attr("y",top)
    .attr("width",x(toDate(calibrationPeriod[1]))-x(toDate(calibrationPeriod[0]))).attr("height",bot-top).attr("fill","#e3e3e3");
  const grid=g.append("g");
  p.minor.forEach(v=>grid.append("line").attr("x1",L).attr("x2",R).attr("y1",y(v)).attr("y2",y(v)).attr("stroke","#f2f2f2").attr("stroke-width",1.2));
  minorYears.forEach(v=>grid.append("line").attr("x1",x(toDate(v))).attr("x2",x(toDate(v))).attr("y1",top).attr("y2",bot).attr("stroke","#f2f2f2").attr("stroke-width",1.2));
  p.ticks.forEach(v=>grid.append("line").attr("x1",L).attr("x2",R).attr("y1",y(v)).attr("y2",y(v)).attr("stroke","#ebebeb").attr("stroke-width",2.2));
  majorYears.forEach(v=>grid.append("line").attr("x1",x(toDate(v))).attr("x2",x(toDate(v))).attr("y1",top).attr("y2",bot).attr("stroke","#ebebeb").attr("stroke-width",2.2));
  const line=d3.line().defined(d=>d!=null).x(d=>x(toDate(d[0]))).y(d=>y(d[1]));
  const lg=g.append("g").attr("clip-path",`url(#${cid})`);
  lg.append("path").datum(p.obs).attr("d",line).attr("fill","none").attr("stroke","#000").attr("stroke-width",2.1).attr("stroke-linejoin","round");
  lg.append("path").datum(p.sim).attr("d",line).attr("fill","none").attr("stroke","#0000ff").attr("stroke-width",2.6).attr("stroke-dasharray","9,6");
  g.append("rect").attr("x",L).attr("y",top).attr("width",R-L).attr("height",bot-top).attr("fill","none").attr("stroke","#b0b0b0").attr("stroke-width",2);
  const xa=g.append("g").attr("transform",`translate(0,${bot})`)
    .call(d3.axisBottom(x).tickValues(majorYears.map(toDate)).tickFormat(d3.utcFormat("%Y")).tickSize(7).tickPadding(3));
  xa.select(".domain").remove();
  xa.selectAll("line").attr("stroke","#555").attr("stroke-width",2);
  xa.selectAll("text").attr("font-size",29).attr("fill","#4d4d4d").attr("font-family",FONT).attr("dy","0.71em");
  const ya=g.append("g").attr("transform",`translate(${L},0)`)
    .call(d3.axisLeft(y).tickValues(p.ticks).tickFormat(d3.format(".1f")).tickSize(7).tickPadding(4));
  ya.select(".domain").remove();
  ya.selectAll("line").attr("stroke","#555").attr("stroke-width",2);
  ya.selectAll("text").attr("font-size",29).attr("fill","#4d4d4d").attr("font-family",FONT);
  // y label
  const yl=g.append("text").attr("transform",`translate(112,${364+p.dy}) rotate(-90)`).attr("text-anchor","middle")
    .attr("font-size",36).attr("font-weight","bold").attr("fill","#111");
  yl.append("tspan").attr("font-weight","normal").text("θ");
  yl.append("tspan").attr("font-size",25).attr("dy",8).text("rz");
  yl.append("tspan").attr("dy",-8).text(" (m");
  yl.append("tspan").attr("font-size",23).attr("font-weight","normal").attr("dy",-14).text("3");
  yl.append("tspan").attr("dy",14).text("/m");
  yl.append("tspan").attr("font-size",23).attr("font-weight","normal").attr("dy",-14).text("3");
  yl.append("tspan").attr("dy",14).text(")");
  // white patch behind station name
  g.append("rect").attr("x",p.patch[0]).attr("y",p.dy===0?0:p.dy+20).attr("width",p.patch[1]-p.patch[0]).attr("height",p.dy===0?top+2:top+2-(p.dy+20)).attr("fill","#fff");
  // titles
  const tTexts=["Station:",p.station,p.climate,"| R_θrz = "+p.r,"| MAE_θrz = "+p.mae];
  tTexts.forEach((t,i)=>{
    const [tx,tw,tb]=p.tl[i];
    g.append("text").attr("x",tx).attr("y",tb).attr("font-size",37).attr("font-weight","bold").attr("fill","#000")
      .attr("textLength",tw).attr("lengthAdjust","spacingAndGlyphs").text(t);
  });
  // legend
  const ly=bot+84;
  g.append("line").attr("x1",771).attr("x2",812).attr("y1",ly-9).attr("y2",ly-9).attr("stroke","#000").attr("stroke-width",2.5);
  g.append("text").attr("x",823).attr("y",ly).attr("font-size",29).attr("font-weight","bold").attr("textLength",216).attr("lengthAdjust","spacingAndGlyphs").text(seriesNames[0]);
  g.append("line").attr("x1",1053).attr("x2",1100).attr("y1",ly-9).attr("y2",ly-9).attr("stroke","#0000ff").attr("stroke-width",2.8).attr("stroke-dasharray","8,5");
  g.append("text").attr("x",1106).attr("y",ly).attr("font-size",29).attr("font-weight","bold").attr("textLength",222).attr("lengthAdjust","spacingAndGlyphs").text(seriesNames[1]);
  // "y" label
  g.append("text").attr("x",1921).attr("y",385+p.dy).attr("font-size",40).attr("font-weight","bold").text("y");
  // parameter box
  const bx=1955, by=92+p.dy;
  g.append("rect").attr("x",bx).attr("y",by).attr("width",280).attr("height",547).attr("fill","#f0f0f0").attr("stroke","#d4d4d4").attr("stroke-width",2);
  const hdr=g.append("g").attr("transform",`translate(1970,${by+32})`);
  const ht=hdr.append("text").attr("font-size",19).attr("font-weight","bold").attr("fill","#111").text("Parameters");
  const rowY=[74,129,185,240,292,346,400,455];
  const rows=[];
  paramNames.forEach((pn,i)=>{
    const rg=g.append("g").attr("transform",`translate(1970,${by+rowY[i]})`);
    const t=rg.append("text").attr("font-size",23).attr("fill","#111");
    t.append("tspan").attr("font-weight",pn[2]?"bold":"normal").text(pn[0]);
    if(pn[1]) t.append("tspan").attr("font-size",17).attr("font-weight","bold").attr("dy",7).text(pn[1]);
    t.append("tspan").attr("dy",pn[1]?-7:0).text(" = ");
    t.append("tspan").attr("font-weight","bold").text(p.params[i]);
    const u=paramUnits[i];
    if(u==="m3"){
      t.append("tspan").attr("font-weight","bold").text(" (m");
      t.append("tspan").attr("font-size",14).attr("dy",-10).text("3");
      t.append("tspan").attr("font-weight","bold").attr("dy",10).text("/m");
      t.append("tspan").attr("font-size",14).attr("dy",-10).text("3");
      t.append("tspan").attr("font-weight","bold").attr("dy",10).text(")");
    } else if(u){
      t.append("tspan").attr("font-weight","bold").text(" "+u);
    }
    rows.push([rg,t]);
  });
  const kw=rows[4][1].node().getComputedTextLength();
  const sx=252/kw;
  rows.forEach(([rg,t],i)=>rg.attr("transform",`translate(1970,${by+rowY[i]}) scale(${sx},1)`));
  hdr.attr("transform",`translate(1970,${by+32}) scale(${117/ht.node().getComputedTextLength()},1)`);
});
</script></body></html>
